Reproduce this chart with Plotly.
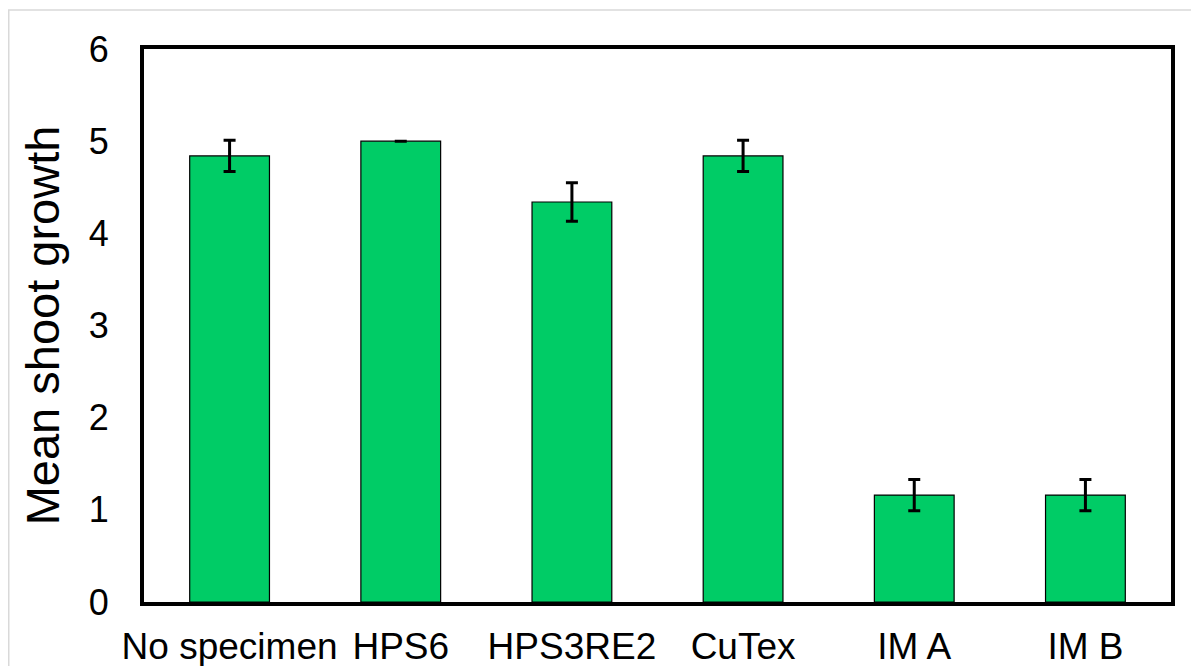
import plotly.graph_objects as go

categories = ["No specimen", "HPS6", "HPS3RE2", "CuTex", "IM A", "IM B"]
mean_growth = [4.84, 5.0, 4.34, 4.84, 1.16, 1.16]
error_sd = [0.17, 0.0, 0.21, 0.17, 0.17, 0.17]
y_ticks = [0, 1, 2, 3, 4, 5, 6]

W, H = 1199, 666
ml, mr, mt, mb = 136, 36, 41, 72
pw, ph = W - ml - mr, H - mt - mb

def px_x(p):
    return (p - ml) / pw

def px_y(p):
    return (H - mb - p) / ph

fig = go.Figure()
fig.add_trace(go.Bar(
    x=categories, y=mean_growth,
    marker=dict(color="#00CC66", line=dict(color="#000000", width=1.2)),
    error_y=dict(type="data", array=error_sd, visible=True,
                 color="#000000", thickness=3, width=6),
))

font_family = "Liberation Sans, Arial, sans-serif"
fig.update_layout(
    width=W, height=H,
    margin=dict(l=ml, r=mr, t=mt, b=mb, autoexpand=False),
    paper_bgcolor="white", plot_bgcolor="white",
    bargap=0.534,
    showlegend=False,
    font=dict(family=font_family, color="#000000"),
    xaxis=dict(
        showline=True, linecolor="#000000", linewidth=4, mirror=True,
        showgrid=False, ticks="", tickfont=dict(size=37, family=font_family),
        ticklabelstandoff=9, automargin=False,
    ),
    yaxis=dict(
        range=[0, 6], tickvals=y_ticks, ticktext=[str(v) for v in y_ticks],
        showline=True, linecolor="#000000", linewidth=4, mirror=True,
        showgrid=False, zeroline=False, ticks="",
        tickfont=dict(size=36, family=font_family),
        ticklabelstandoff=24, automargin=False,
        title=dict(text="Mean shoot growth", font=dict(size=47, family=font_family), standoff=15),
    ),
    shapes=[dict(type="rect", xref="paper", yref="paper",
                 x0=px_x(0.75), x1=px_x(1220), y0=px_y(700), y1=px_y(2),
                 line=dict(color="#d9d9d9", width=1.5), fillcolor="rgba(0,0,0,0)",
                 layer="below")],
)

fig.write_html("out.html")
